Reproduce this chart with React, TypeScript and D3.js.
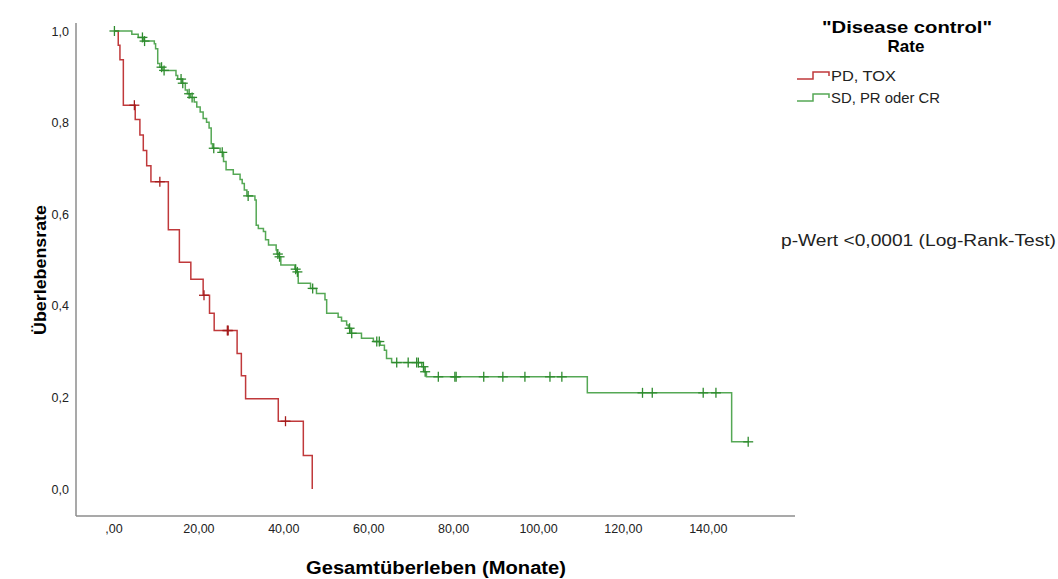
import React, { useEffect, useRef } from 'react';
import * as d3 from 'd3';

// Kaplan-Meier data: event time (months) and survival after it
const redTimes = [1.0, 1.4, 2.2, 5.0, 6.1, 6.9, 7.7, 8.7, 12.8, 15.4, 18.1, 21.0, 22.5, 23.6, 29.0, 30.0, 31.0, 38.7, 44.6, 46.7];
const redSurv = [0.969, 0.937, 0.838, 0.807, 0.773, 0.739, 0.706, 0.671, 0.566, 0.495, 0.458, 0.423, 0.384, 0.346, 0.296, 0.247, 0.197, 0.148, 0.073, 0.0];
const redCensored = [4.8, 10.8, 21.2, 26.7, 26.9, 40.4];

const greenTimes = [4.2, 5.7, 7.0, 9.5, 9.8, 10.3, 10.8, 11.5, 14.6, 15.0, 16.0, 16.8, 17.3, 18.0, 18.9, 19.5, 20.3, 21.0, 21.8, 22.4,
  22.9, 23.2, 25.0, 25.8, 26.4, 28.1, 29.7, 30.2, 30.7, 31.3, 33.2, 33.5, 34.0, 35.2, 35.7, 36.4, 38.2, 38.4, 38.9, 39.3,
  42.6, 43.0, 43.4, 46.3, 47.7, 49.7, 50.1, 52.8, 53.6, 54.8, 55.2, 55.8, 58.3, 61.1, 62.7, 63.7, 64.2, 65.4, 72.5, 73.0,
  73.6, 111.5, 145.5];
const greenSurv = [0.993, 0.986, 0.978, 0.972, 0.961, 0.929, 0.921, 0.914, 0.903, 0.895, 0.886, 0.871, 0.863, 0.855, 0.845, 0.834, 0.823, 0.809, 0.801, 0.788,
  0.754, 0.744, 0.735, 0.715, 0.697, 0.687, 0.676, 0.667, 0.653, 0.640, 0.631, 0.576, 0.569, 0.562, 0.544, 0.533, 0.522, 0.513, 0.507, 0.489,
  0.480, 0.474, 0.449, 0.438, 0.427, 0.413, 0.384, 0.375, 0.367, 0.358, 0.351, 0.340, 0.329, 0.322, 0.314, 0.303, 0.285, 0.276, 0.267, 0.256,
  0.245, 0.210, 0.103];
const greenCensored = [0.1, 6.7, 7.2, 11.2, 11.8, 15.8, 16.2, 17.7, 18.4, 23.5, 25.5, 31.6, 38.6, 39.0, 42.8, 43.2, 46.8, 55.5, 56.0,
  61.9, 62.5, 66.6, 69.3, 71.3, 71.7, 72.9, 73.3, 76.4, 80.3, 80.6, 87.1, 91.6, 96.8, 102.7, 105.5, 124.5, 126.8, 138.8, 141.8, 149.4];

const groupNames = ['PD, TOX', 'SD, PR oder CR'];
const xTicks = [0, 20, 40, 60, 80, 100, 120, 140];
const yTicks = [0, 0.2, 0.4, 0.6, 0.8, 1.0];

const FONT = '"Liberation Sans", Arial, sans-serif';

export default function App() {
  const ref = useRef<SVGSVGElement>(null);

  useEffect(() => {
    const svg = d3.select(ref.current);
    svg.selectAll('*').remove();

    // scales
    const x = d3.scaleLinear().domain([0, 150]).range([114, 750.75]);
    const y = d3.scaleLinear().domain([0, 1]).range([489, 31]);
    const xMin = x.invert(76), xMax = x.invert(795);
    const yMin = y.invert(516), yMax = y.invert(23);

    // axes (no tick marks, SPSS style)
    svg.append('line')
      .attr('x1', x(xMin)).attr('x2', x(xMin))
      .attr('y1', y(yMin)).attr('y2', y(yMax))
      .attr('stroke', '#8c8c8c').attr('stroke-width', 1.5);
    svg.append('line')
      .attr('x1', x(xMin)).attr('x2', x(xMax))
      .attr('y1', y(yMin)).attr('y2', y(yMin))
      .attr('stroke', '#8c8c8c').attr('stroke-width', 1.5);

    const fmtX = (d: number) => d === 0 ? ',00' : d3.format('.2f')(d).replace('.', ',');
    const fmtY = (d: number) => d3.format('.1f')(d).replace('.', ',');

    svg.append('g').selectAll('text')
      .data(xTicks)
      .enter().append('text')
      .attr('x', d => x(d))
      .attr('y', 533)
      .attr('text-anchor', 'middle')
      .attr('font-family', FONT).attr('font-size', 12.5).attr('fill', '#222')
      .text(fmtX);

    svg.append('g').selectAll('text')
      .data(yTicks)
      .enter().append('text')
      .attr('x', 69)
      .attr('y', d => y(d) + 4.5)
      .attr('text-anchor', 'end')
      .attr('font-family', FONT).attr('font-size', 12.5).attr('fill', '#222')
      .text(fmtY);

    // axis titles
    svg.append('text')
      .attr('x', 436).attr('y', 574)
      .attr('text-anchor', 'middle')
      .attr('font-family', FONT).attr('font-size', 18).attr('font-weight', 'bold')
      .attr('textLength', 260).attr('lengthAdjust', 'spacingAndGlyphs')
      .text('Gesamtüberleben (Monate)');
    svg.append('text')
      .attr('transform', 'translate(46,270) rotate(-90)')
      .attr('text-anchor', 'middle')
      .attr('font-family', FONT).attr('font-size', 17).attr('font-weight', 'bold')
      .attr('textLength', 130).attr('lengthAdjust', 'spacingAndGlyphs')
      .text('Überlebensrate');

    // survival curves
    const line = d3.line<[number, number]>()
      .x(d => x(d[0]))
      .y(d => y(d[1]))
      .curve(d3.curveStepAfter);

    function survAt(times: number[], surv: number[], t: number) {
      let s = 1;
      times.forEach((tt, i) => { if (tt <= t) s = surv[i]; });
      return s;
    }

    function drawGroup(times: number[], surv: number[], censored: number[], color: string, mark: string) {
      const end = Math.max(times[times.length - 1], d3.max(censored) as number);
      const pts: [number, number][] = [[0, 1]];
      times.forEach((t, i) => pts.push([t, surv[i]]));
      pts.push([end, survAt(times, surv, end)]);

      svg.append('path')
        .attr('d', line(pts))
        .attr('fill', 'none')
        .attr('stroke', color)
        .attr('stroke-width', 1.5);

      const g = svg.append('g').attr('stroke', mark).attr('stroke-width', 1.3);
      censored.forEach(t => {
        const cx = x(t), cy = y(survAt(times, surv, t));
        g.append('line').attr('x1', cx).attr('x2', cx).attr('y1', cy - 5).attr('y2', cy + 5);
        g.append('line').attr('x1', cx - 5).attr('x2', cx + 5).attr('y1', cy).attr('y2', cy);
      });
    }

    drawGroup(redTimes, redSurv, redCensored, '#c0393b', '#a51c1c');
    drawGroup(greenTimes, greenSurv, greenCensored, '#55a855', '#2e8b2e');

    // legend
    svg.append('text')
      .attr('x', 907).attr('y', 33)
      .attr('text-anchor', 'middle')
      .attr('font-family', FONT).attr('font-size', 17).attr('font-weight', 'bold')
      .attr('textLength', 170).attr('lengthAdjust', 'spacingAndGlyphs')
      .text('"Disease control"');
    svg.append('text')
      .attr('x', 906).attr('y', 52)
      .attr('text-anchor', 'middle')
      .attr('font-family', FONT).attr('font-size', 17).attr('font-weight', 'bold')
      .text('Rate');

    const legendColors = ['#c0393b', '#55a855'];
    const legendWidths = [65, 109];
    groupNames.forEach((name, i) => {
      const ly = 79 + i * 22;
      svg.append('path')
        .attr('d', `M797,${ly} H813 V${ly - 7} H829 V${ly - 3}`)
        .attr('fill', 'none').attr('stroke', legendColors[i]).attr('stroke-width', 1.5);
      svg.append('text')
        .attr('x', 831).attr('y', ly + 2)
        .attr('font-family', FONT).attr('font-size', 15).attr('fill', '#222')
        .attr('textLength', legendWidths[i]).attr('lengthAdjust', 'spacingAndGlyphs')
        .text(name);
    });

    // test result
    svg.append('text')
      .attr('x', 781).attr('y', 246)
      .attr('font-family', FONT).attr('font-size', 16).attr('fill', '#222')
      .attr('textLength', 275).attr('lengthAdjust', 'spacingAndGlyphs')
      .text('p-Wert <0,0001 (Log-Rank-Test)');
  }, []);

  return (
    <svg ref={ref} width={1058} height={579}
      style={{ position: 'absolute', left: 0, top: 0, background: '#fff' }} />
  );
}
